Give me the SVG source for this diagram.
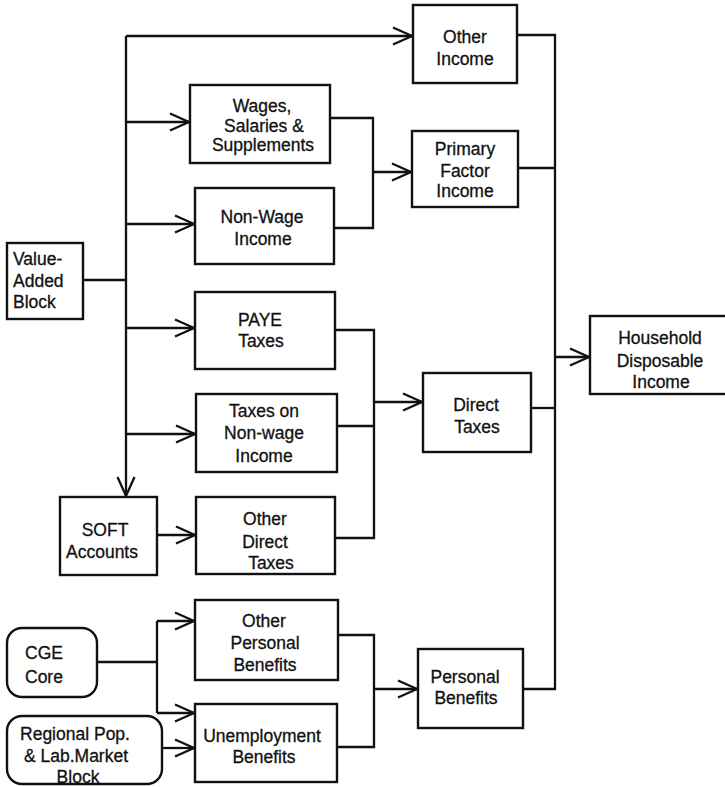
<svg xmlns="http://www.w3.org/2000/svg" width="725" height="787" viewBox="0 0 725 787">
  <style>
    .box { fill: #fff; stroke: #111; stroke-width: 2.4; }
    .wire { fill: none; stroke: #111; stroke-width: 2.3; stroke-linejoin: miter; }
    .lbl { font-family: "Liberation Sans", Arial, Helvetica, sans-serif; font-size: 17.5px; fill: #111; stroke: #111; stroke-width: 0.3; text-anchor: middle; }
    .lft { text-anchor: start; }
  </style>
  <defs>
    <marker id="arr" markerUnits="userSpaceOnUse" markerWidth="24" markerHeight="24" viewBox="0 0 24 24" refX="20" refY="12" orient="auto" overflow="visible">
      <path d="M1,3.5 L20,12 L1,20.5" fill="none" stroke="#111" stroke-width="2.3"/>
    </marker>
  </defs>
  <rect width="725" height="787" fill="#fff"/>

  <!-- connectors -->
  <g id="connectors" class="wire">
    <!-- value-added trunk -->
    <path d="M83,280 H126"/>
    <path d="M126,36 V496" marker-end="url(#arr)"/>
    <path d="M126,36 H412" marker-end="url(#arr)"/>
    <path d="M126,122 H189" marker-end="url(#arr)"/>
    <path d="M126,224 H194" marker-end="url(#arr)"/>
    <path d="M126,328 H194" marker-end="url(#arr)"/>
    <path d="M126,434 H195" marker-end="url(#arr)"/>
    <path d="M157,535 H195" marker-end="url(#arr)"/>

    <!-- primary factor income collector -->
    <path d="M330,118 H373 V228 H334"/>
    <path d="M373,172 H411" marker-end="url(#arr)"/>

    <!-- direct taxes collector -->
    <path d="M335,330 H374 V538 H335"/>
    <path d="M337,426 H374"/>
    <path d="M374,402 H422" marker-end="url(#arr)"/>

    <!-- household disposable income bus -->
    <path d="M517,35 H555 V689 H523"/>
    <path d="M518,168 H555"/>
    <path d="M531,408 H555"/>
    <path d="M555,357 H589" marker-end="url(#arr)"/>

    <!-- benefits -->
    <path d="M97,662 H157"/>
    <path d="M157,621 V713"/>
    <path d="M157,621 H194" marker-end="url(#arr)"/>
    <path d="M157,713 H194" marker-end="url(#arr)"/>
    <path d="M162,748 H194" marker-end="url(#arr)"/>
    <path d="M338,635 H374 V747 H337"/>
    <path d="M374,689 H417" marker-end="url(#arr)"/>
  </g>

  <!-- nodes -->
  <g id="other-income">
    <rect class="box" x="413" y="5" width="104" height="78"/>
    <text class="lbl" x="465" y="43">Other</text>
    <text class="lbl" x="465" y="65">Income</text>
  </g>
  <g id="wages">
    <rect class="box" x="190" y="85" width="140" height="78"/>
    <text class="lbl" x="262" y="112">Wages,</text>
    <text class="lbl" x="264" y="132">Salaries &amp;</text>
    <text class="lbl" x="263" y="151">Supplements</text>
  </g>
  <g id="non-wage">
    <rect class="box" x="195" y="188" width="139" height="76"/>
    <text class="lbl" x="262" y="223">Non-Wage</text>
    <text class="lbl" x="263" y="245">Income</text>
  </g>
  <g id="primary-factor">
    <rect class="box" x="412" y="131" width="106" height="76"/>
    <text class="lbl" x="465" y="155">Primary</text>
    <text class="lbl" x="465" y="177">Factor</text>
    <text class="lbl" x="465" y="197">Income</text>
  </g>
  <g id="value-added">
    <rect class="box" x="7" y="243" width="76" height="76"/>
    <text class="lbl lft" x="13" y="265">Value-</text>
    <text class="lbl lft" x="13" y="287">Added</text>
    <text class="lbl lft" x="13" y="308">Block</text>
  </g>
  <g id="paye">
    <rect class="box" x="195" y="292" width="140" height="77"/>
    <text class="lbl" x="260" y="326">PAYE</text>
    <text class="lbl" x="261" y="347">Taxes</text>
  </g>
  <g id="taxes-non-wage">
    <rect class="box" x="196" y="394" width="141" height="78"/>
    <text class="lbl" x="264" y="417">Taxes on</text>
    <text class="lbl" x="264" y="439">Non-wage</text>
    <text class="lbl" x="264" y="462">Income</text>
  </g>
  <g id="direct-taxes">
    <rect class="box" x="423" y="373" width="108" height="79"/>
    <text class="lbl" x="476" y="411">Direct</text>
    <text class="lbl" x="477" y="433">Taxes</text>
  </g>
  <g id="household">
    <rect class="box" x="590" y="316" width="137" height="78"/>
    <text class="lbl" x="660" y="344">Household</text>
    <text class="lbl" x="660" y="367">Disposable</text>
    <text class="lbl" x="661" y="388">Income</text>
  </g>
  <g id="soft">
    <rect class="box" x="60" y="497" width="97" height="78"/>
    <text class="lbl" x="105" y="536">SOFT</text>
    <text class="lbl" x="102" y="558">Accounts</text>
  </g>
  <g id="other-direct">
    <rect class="box" x="196" y="497" width="139" height="77"/>
    <text class="lbl" x="265" y="525">Other</text>
    <text class="lbl" x="265" y="548">Direct</text>
    <text class="lbl" x="271" y="569">Taxes</text>
  </g>
  <g id="other-personal">
    <rect class="box" x="195" y="600" width="143" height="80"/>
    <text class="lbl" x="264" y="627">Other</text>
    <text class="lbl" x="265" y="649">Personal</text>
    <text class="lbl" x="265" y="671">Benefits</text>
  </g>
  <g id="cge-core">
    <rect class="box" x="7" y="628" width="90" height="69" rx="15"/>
    <text class="lbl lft" x="25" y="659">CGE</text>
    <text class="lbl lft" x="25" y="683">Core</text>
  </g>
  <g id="unemployment">
    <rect class="box" x="195" y="704" width="142" height="78"/>
    <text class="lbl" x="262" y="742">Unemployment</text>
    <text class="lbl" x="264" y="763">Benefits</text>
  </g>
  <g id="regional">
    <rect class="box" x="7" y="716" width="155" height="68" rx="15"/>
    <text class="lbl" x="75" y="740">Regional Pop.</text>
    <text class="lbl" x="76" y="762">&amp; Lab.Market</text>
    <text class="lbl" x="78" y="783">Block</text>
  </g>
  <g id="personal-benefits">
    <rect class="box" x="418" y="649" width="105" height="79"/>
    <text class="lbl" x="465" y="683">Personal</text>
    <text class="lbl" x="466" y="704">Benefits</text>
  </g>
</svg>
